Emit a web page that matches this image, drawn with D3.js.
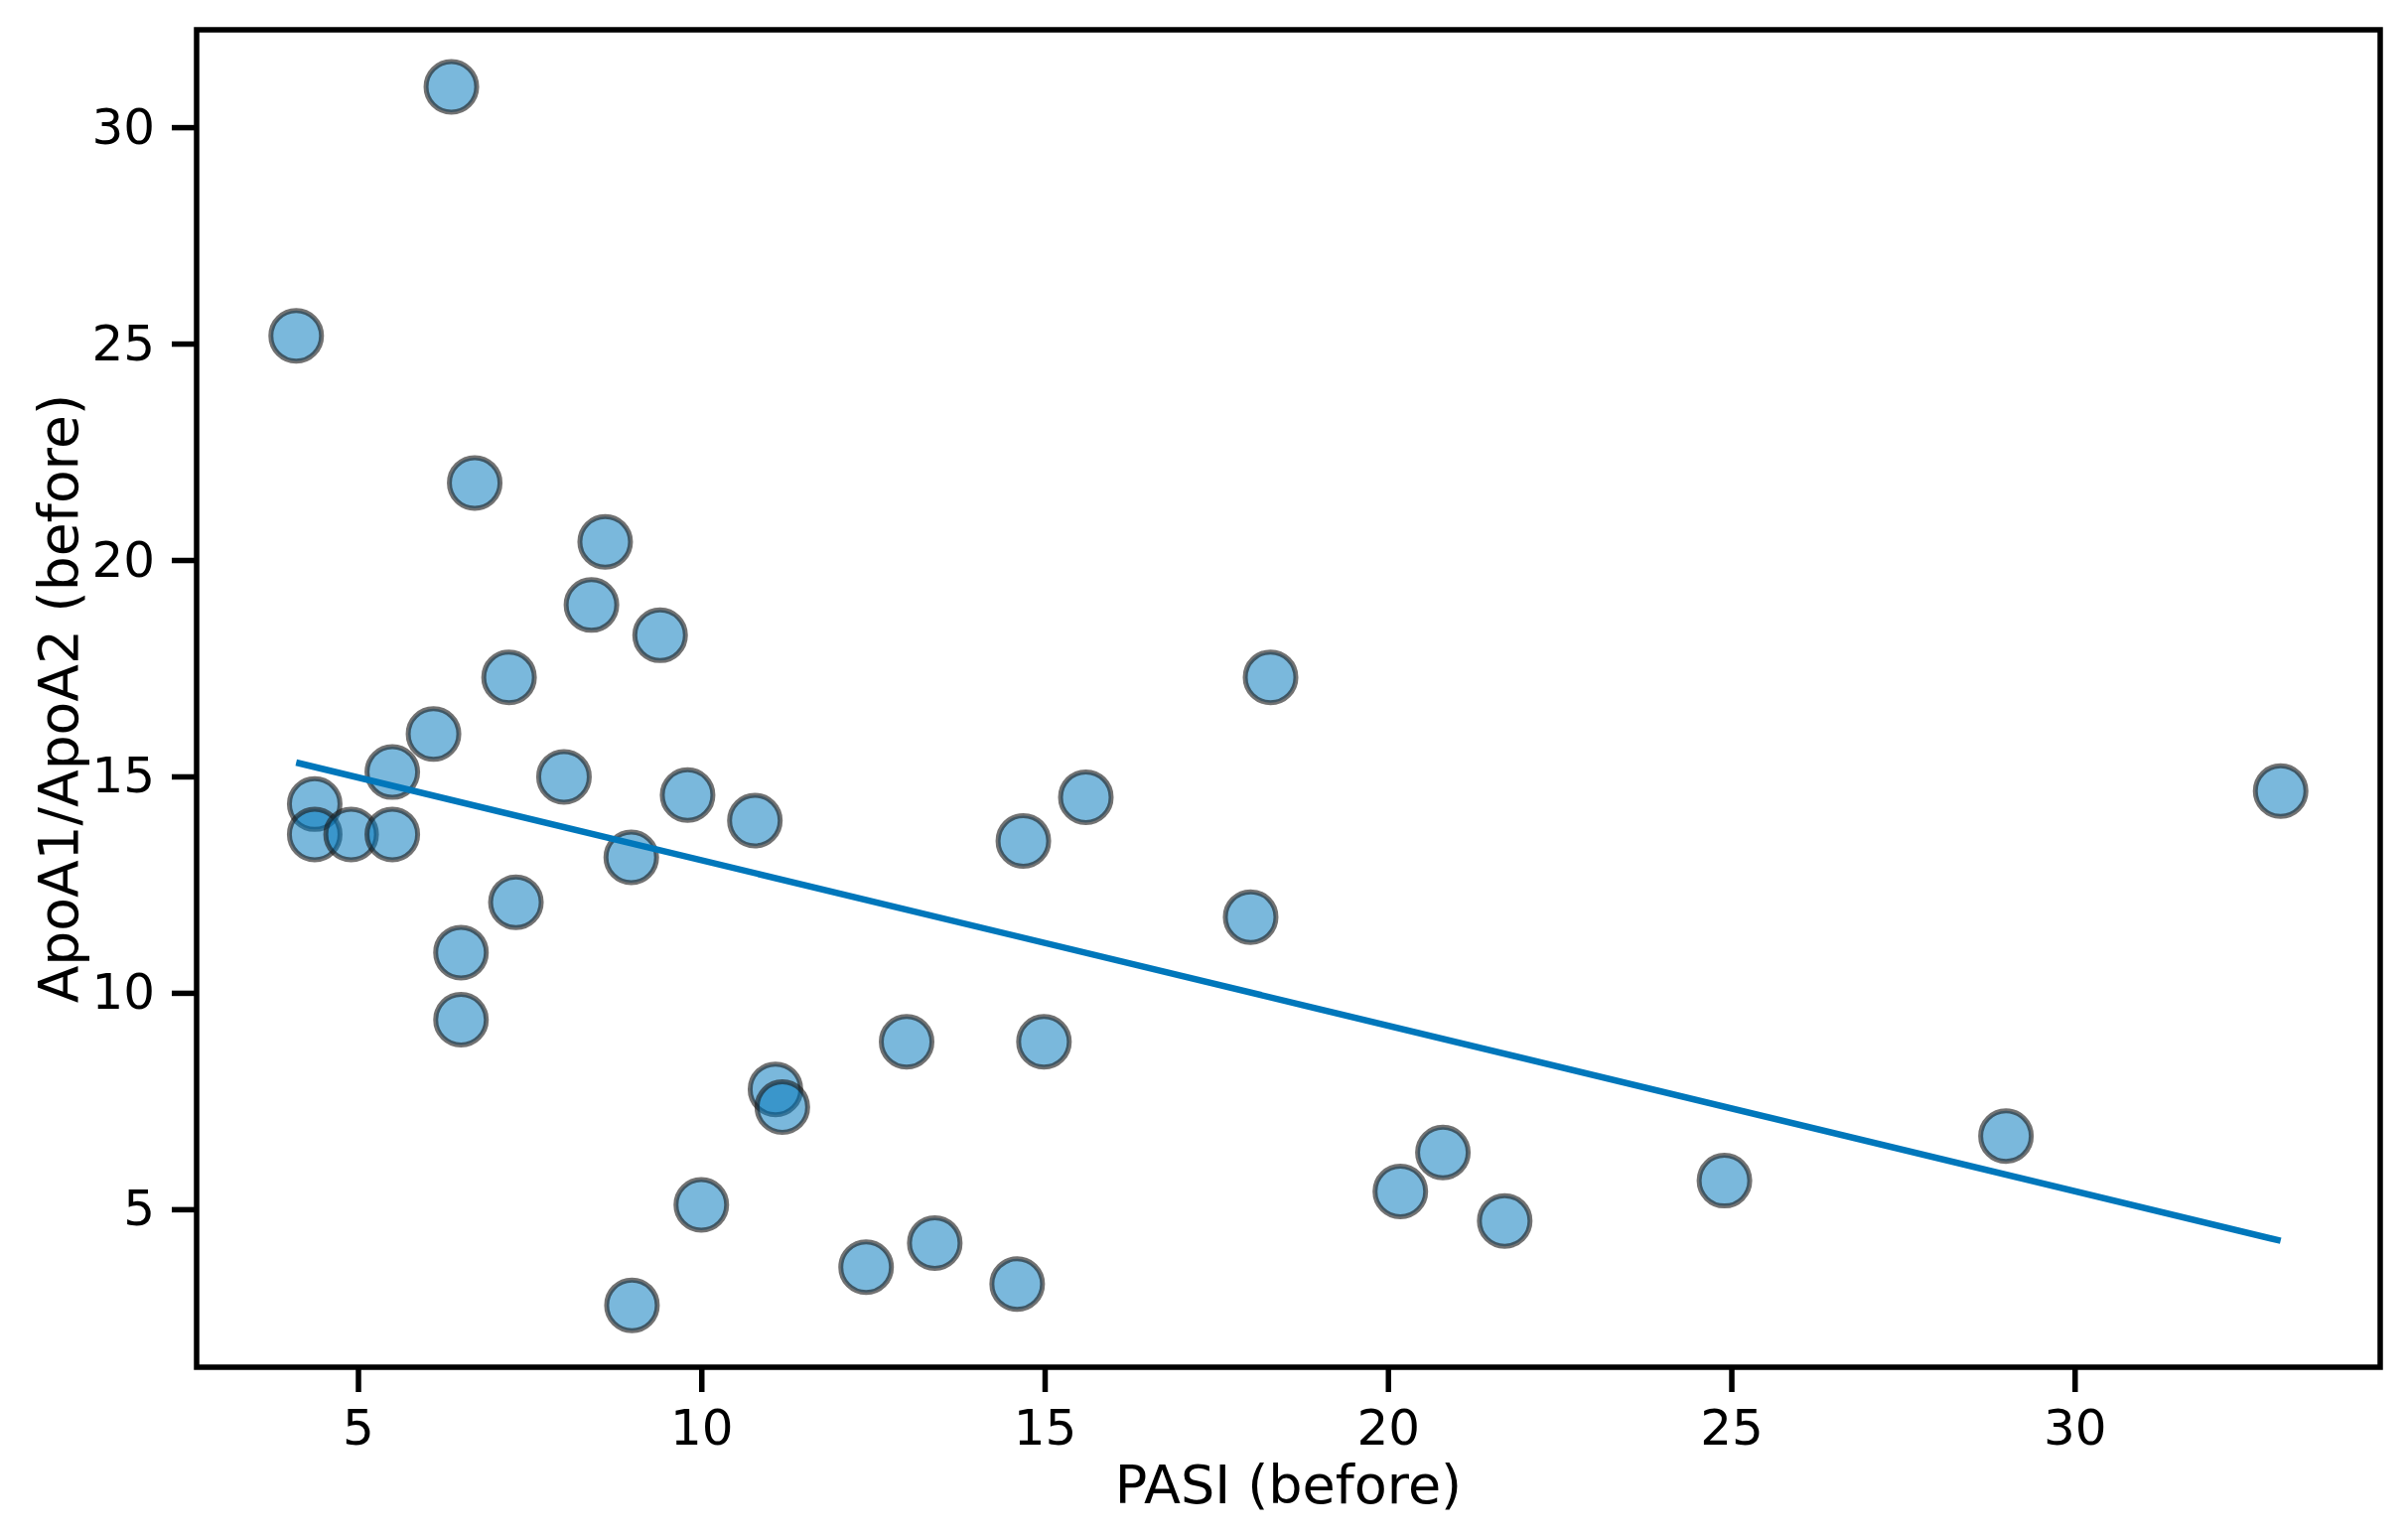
<!DOCTYPE html>
<html>
<head>
<meta charset="utf-8">
<script src="https://cdn.jsdelivr.net/npm/d3@7"></script>
<style>
  body { margin: 0; background: #fff; }
  svg { display: block; }
</style>
</head>
<body>
<svg id="chart"></svg>
<script>
// PASI (before) vs ApoA1/ApoA2 (before)
const pasi = [6.36, 4.1, 6.7, 8.6, 8.4, 9.4, 7.2, 6.1, 5.5, 8.0, 4.37, 4.37, 4.9, 5.5,
              9.8, 10.78, 8.98, 7.3, 6.5, 6.5, 14.69, 15.6, 18.29, 18.0, 12.99, 14.99,
              11.08, 11.18, 10.0, 8.99, 12.4, 13.4, 14.6, 20.18, 20.8, 21.7, 24.9, 29.0, 33.0];
const ratio = [30.93, 25.18, 21.78, 20.42, 18.96, 18.26, 17.29, 15.98, 15.1, 14.99, 14.36, 13.66, 13.66, 13.66,
               14.57, 13.98, 13.13, 12.09, 10.93, 9.38, 13.51, 14.52, 17.29, 11.75, 8.87, 8.87,
               7.77, 7.36, 5.1, 2.78, 3.66, 4.22, 3.27, 5.41, 6.31, 4.73, 5.66, 6.69, 14.66];

// fitted regression line (ends as drawn)
const fitX = [4.1, 33.0];
const fitY = [15.32, 4.27];

const xTicks = [5, 10, 15, 20, 25, 30];
const yTicks = [5, 10, 15, 20, 25, 30];
const xLimits = [2.65, 34.45];
const yLimits = [1.35, 32.25];

const W = 2425, H = 1547;
const margin = { top: 30, right: 28, bottom: 170, left: 198 };
const width = W - margin.left - margin.right;
const height = H - margin.top - margin.bottom;
const font = "DejaVu Sans, Verdana, sans-serif";

const svg = d3.select("#chart").attr("width", W).attr("height", H);
const g = svg.append("g").attr("transform", `translate(${margin.left},${margin.top})`);

const x = d3.scaleLinear().domain(xLimits).range([0, width]);
const y = d3.scaleLinear().domain(yLimits).range([height, 0]);

const points = pasi.map((p, i) => ({ x: p, y: ratio[i] }));

g.selectAll(".dot")
  .data(points)
  .enter()
  .append("circle")
  .attr("class", "dot")
  .attr("cx", d => x(d.x))
  .attr("cy", d => y(d.y))
  .attr("r", 25.5)
  .attr("fill", "#0077bb")
  .attr("fill-opacity", 0.52)
  .attr("stroke", "#1c1c1c")
  .attr("stroke-opacity", 0.62)
  .attr("stroke-width", 5);

g.append("path")
  .datum(fitX.map((v, i) => [v, fitY[i]]))
  .attr("fill", "none")
  .attr("stroke", "#0077bb")
  .attr("stroke-width", 6.5)
  .attr("d", d3.line().x(d => x(d[0])).y(d => y(d[1])));

const xAxis = g.append("g")
  .attr("transform", `translate(0,${height})`)
  .call(d3.axisBottom(x).tickValues(xTicks).tickSize(25).tickSizeOuter(0).tickPadding(17));
const yAxis = g.append("g")
  .call(d3.axisLeft(y).tickValues(yTicks).tickSize(25).tickSizeOuter(0).tickPadding(17));

[xAxis, yAxis].forEach(a => {
  a.select(".domain").remove();
  a.selectAll("line").attr("stroke", "#000").attr("stroke-width", 5.5);
  a.selectAll("text").attr("fill", "#000").style("font-family", font).style("font-size", "50px");
});

// frame
g.append("rect")
  .attr("width", width)
  .attr("height", height)
  .attr("fill", "none")
  .attr("stroke", "#000")
  .attr("stroke-width", 5.5);

svg.append("text")
  .attr("x", margin.left + width / 2)
  .attr("y", 1514)
  .attr("text-anchor", "middle")
  .style("font-family", font)
  .style("font-size", "54px")
  .text("PASI (before)");

svg.append("text")
  .attr("transform", `translate(78,${margin.top + height / 2}) rotate(-90)`)
  .attr("text-anchor", "middle")
  .style("font-family", font)
  .style("font-size", "55px")
  .text("ApoA1/ApoA2 (before)");
</script>
</body>
</html>
